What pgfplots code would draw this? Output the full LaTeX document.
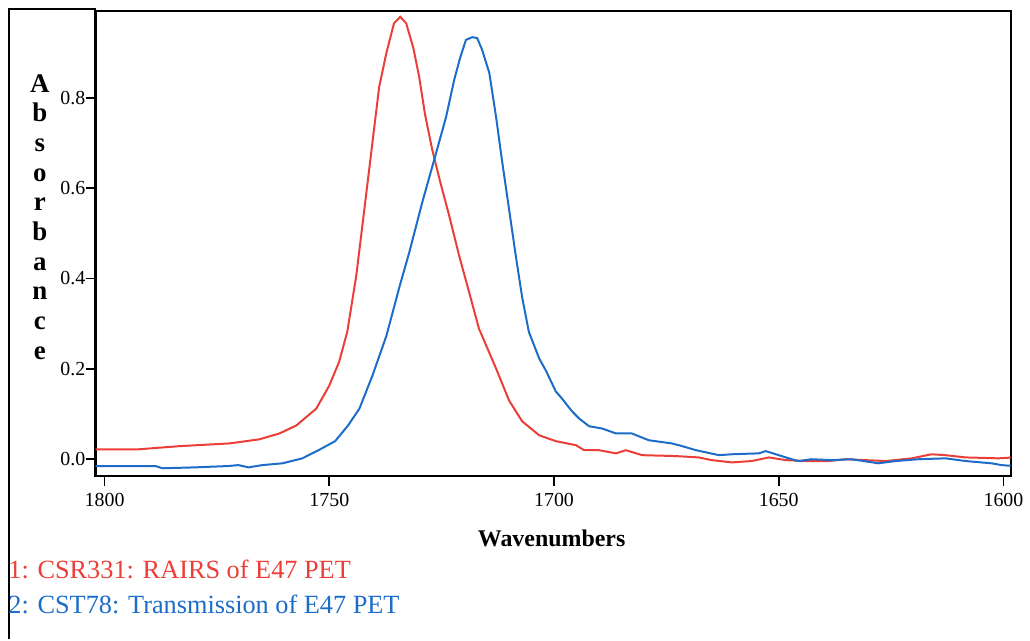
\documentclass[border=0pt]{standalone}
\usepackage{pgfplots}
\pgfplotsset{compat=1.18}
\usepackage{fontspec}
\setmainfont{Liberation Serif}

\definecolor{specred}{RGB}{236,62,56}
\definecolor{specblue}{RGB}{28,108,200}

\begin{document}
\begin{tikzpicture}
% page extent (1030x642 px at 0.5pt per px)
\path (0,0) rectangle (515pt,-321pt);
% outer frame
\draw[line width=1pt] (4.5pt,-321pt) -- (4.5pt,-4.5pt) -- (48pt,-4.5pt);

\begin{axis}[
    name=ax,
    at={(48pt,-239pt)}, anchor=south west,
    scale only axis,
    width=459.5pt, height=233.5pt,
    % wavenumbers run right to left
    x coord trafo/.code={\pgfmathparse{-#1}},
    x coord inv trafo/.code={\pgfmathparse{-#1}},
    xmin=1802, xmax=1598.4,
    ymin=-0.037, ymax=0.992,
    xtick={1600,1650,1700,1750,1800},
    ytick={0,0.2,0.4,0.6,0.8},
    yticklabel style={/pgf/number format/fixed,/pgf/number format/fixed zerofill,
      /pgf/number format/precision=1, anchor=east, inner sep=0pt},
    xticklabel style={/pgf/number format/fixed,/pgf/number format/precision=0,
      /pgf/number format/1000 sep={}},
    /pgf/number format/assume math mode=true,
    tick label style={font=\fontsize{10}{12}\selectfont},
    tick align=outside,
    tick pos=left,
    major tick length=5pt,
    axis line style={line width=1.1pt},
    tick style={black, line width=0.9pt},
    clip=true,
]
\addplot[specred, line width=1pt] coordinates {
(1802.0,0.022)(1792.4,0.022)(1783.3,0.029)(1772.2,0.035)(1765.6,0.044)
(1761.1,0.057)(1757.3,0.075)(1752.9,0.112)(1750.0,0.163)(1747.8,0.216)
(1746.0,0.282)(1744.0,0.406)(1742.2,0.553)(1740.4,0.701)(1738.9,0.824)
(1737.3,0.899)(1735.6,0.965)(1734.2,0.979)(1732.9,0.965)(1731.3,0.910)
(1730.0,0.846)(1728.7,0.763)(1727.1,0.685)(1725.3,0.613)(1723.3,0.538)
(1721.1,0.450)(1718.9,0.370)(1716.7,0.289)(1712.9,0.201)(1710.0,0.130)
(1707.1,0.084)(1703.3,0.053)(1699.6,0.040)(1695.1,0.031)(1693.3,0.020)
(1690.0,0.020)(1686.2,0.013)(1684.0,0.020)(1680.4,0.009)(1672.9,0.007)
(1667.8,0.004)(1664.9,-0.002)(1660.4,-0.007)(1656.0,-0.004)(1652.2,0.004)
(1648.4,-0.002)(1644.0,-0.004)(1638.9,-0.004)(1635.1,0.000)(1630.7,-0.002)
(1626.2,-0.004)(1620.4,0.002)(1616.0,0.011)(1612.9,0.009)(1608.4,0.004)
(1601.1,0.002)(1597.8,0.004)
};
\addplot[specblue, line width=1pt] coordinates {
(1802.0,-0.015)(1788.7,-0.015)(1787.1,-0.020)(1779.8,-0.018)(1772.4,-0.015)
(1770.2,-0.013)(1768.0,-0.018)(1764.9,-0.013)(1760.4,-0.009)(1756.0,0.002)
(1752.4,0.020)(1748.7,0.040)(1745.8,0.075)(1743.3,0.112)(1740.4,0.185)
(1737.3,0.273)(1734.4,0.381)(1732.2,0.458)(1729.3,0.569)(1726.2,0.679)
(1724.0,0.758)(1722.2,0.840)(1720.9,0.888)(1719.6,0.928)(1718.2,0.934)
(1717.1,0.932)(1716.0,0.906)(1714.4,0.855)(1712.9,0.758)(1711.6,0.663)
(1710.0,0.553)(1708.4,0.443)(1707.1,0.359)(1705.6,0.282)(1703.3,0.223)
(1701.8,0.196)(1699.6,0.150)(1698.2,0.134)(1696.0,0.106)(1694.4,0.090)
(1692.2,0.073)(1689.3,0.068)(1686.2,0.057)(1682.7,0.057)(1678.9,0.042)
(1673.8,0.035)(1672.2,0.031)(1668.4,0.020)(1663.3,0.009)(1660.4,0.011)
(1654.4,0.013)(1652.9,0.018)(1650.0,0.009)(1647.1,0.000)(1645.6,-0.004)
(1642.7,0.000)(1638.2,-0.002)(1633.8,0.000)(1627.8,-0.009)(1624.0,-0.004)
(1618.9,0.000)(1612.9,0.002)(1608.4,-0.004)(1602.7,-0.009)(1600.4,-0.013)
(1597.8,-0.015)
};
\end{axis}

% stacked y label
\node[font=\fontsize{13.5}{14.9}\selectfont\bfseries, align=center, inner sep=0pt]
  at (20pt,-109pt) {A\\b\\s\\o\\r\\b\\a\\n\\c\\e};
% x label
\node[font=\fontsize{12}{14}\selectfont\bfseries] at (277pt,-270.5pt) {Wavenumbers};
% series captions
\node[anchor=west, inner sep=0pt, text=specred, font=\fontsize{13.2}{14}\selectfont]
  at (4pt,-286pt) {1: CSR331: RAIRS of E47 PET};
\node[anchor=west, inner sep=0pt, text=specblue, font=\fontsize{13.2}{14}\selectfont]
  at (4pt,-303.5pt) {2: CST78: Transmission of E47 PET};
\end{tikzpicture}
\end{document}
